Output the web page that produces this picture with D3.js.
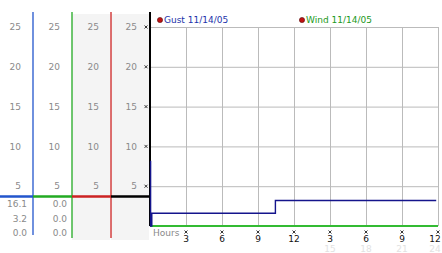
<!DOCTYPE html>
<html>
<head>
<meta charset="utf-8">
<script src="https://cdn.jsdelivr.net/npm/d3@7"></script>
<style>
  body { margin: 0; background: #fff; }
  text { font-family: "DejaVu Sans", Verdana, sans-serif; font-size: 9px; }
</style>
</head>
<body>
<div id="chart"></div>
<script>
const width = 442, height = 253

// data
const gustHours = [0, 0.05, 0.15, 10.45, 23.85]
const gustValues = [8.1, 0, 1.6, 3.2, 3.2]
const windHours = [0, 24]
const windValues = [0, 0]
const scaleTicks = [25, 20, 15, 10, 5]
const hourTicks = [3, 6, 9, 12, 15, 18, 21, 24]
const hourLabels = ["3", "6", "9", "12", "3", "6", "9", "12"]
const hourLabels2 = ["", "", "", "", "15", "18", "21", "24"]
const gustStats = ["16.1", "3.2", "0.0"]
const windStats = ["0.0", "0.0", "0.0"]
const legendNames = ["Gust 11/14/05", "Wind 11/14/05"]
const dividerLevel = 3.7

const xScale = d3.scaleLinear().domain([0, 24]).range([150, 438])
const yScale = d3.scaleLinear().domain([0, 25]).range([226, 27])

const svg = d3.select("#chart").append("svg")
    .attr("width", width)
    .attr("height", height)

// left panel columns
const columns = [
    {x0: 0, x1: 33, color: "#2255cc", lx: 21, bg: "#fff", bottom: 235},
    {x0: 33, x1: 72, color: "#22aa22", lx: 60, bg: "#fff", bottom: 238},
    {x0: 72, x1: 111, color: "#cc2222", lx: 99, bg: "#f4f4f4", bottom: 238},
    {x0: 111, x1: 150, color: "#000", lx: 137, bg: "#f4f4f4", bottom: 226}
]

svg.selectAll(".colbg")
    .data(columns.filter(c => c.bg !== "#fff"))
    .enter().append("rect")
    .attr("x", d => d.x0)
    .attr("y", 14)
    .attr("width", d => d.x1 - d.x0 - 1)
    .attr("height", 226)
    .attr("fill", d => d.bg)

// scale labels in each column
columns.forEach(c => {
    svg.append("g").selectAll("text")
        .data(scaleTicks)
        .enter().append("text")
        .attr("x", c.lx)
        .attr("y", d => yScale(d))
        .attr("dy", "0.36em")
        .attr("text-anchor", "end")
        .attr("fill", "#8a8a8a")
        .text(d => d)
})

// stats text under the divider
const statRows = [204, 219, 233]
svg.append("g").selectAll("text")
    .data(gustStats)
    .enter().append("text")
    .attr("x", 27)
    .attr("y", (d, i) => statRows[i])
    .attr("dy", "0.36em")
    .attr("text-anchor", "end")
    .attr("fill", "#8a8a8a")
    .text(d => d)
svg.append("g").selectAll("text")
    .data(windStats)
    .enter().append("text")
    .attr("x", 67)
    .attr("y", (d, i) => statRows[i])
    .attr("dy", "0.36em")
    .attr("text-anchor", "end")
    .attr("fill", "#8a8a8a")
    .text(d => d)

// grid lines
svg.append("g")
    .attr("transform", "translate(0," + yScale(0) + ")")
    .call(d3.axisBottom(xScale).tickValues(hourTicks).tickSize(-(yScale(0) - yScale(25))).tickFormat(""))
    .call(g => g.select(".domain").remove())
    .call(g => g.selectAll("line").attr("stroke", "#bbb"))
svg.append("g")
    .attr("transform", "translate(" + xScale(0) + ",0)")
    .call(d3.axisLeft(yScale).tickValues(scaleTicks).tickSize(-(xScale(24) - xScale(0))).tickFormat(""))
    .call(g => g.select(".domain").remove())
    .call(g => g.selectAll("line").attr("stroke", "#bbb"))

// vertical column lines
svg.selectAll(".colline")
    .data(columns)
    .enter().append("line")
    .attr("x1", d => d.x1)
    .attr("x2", d => d.x1)
    .attr("y1", 12)
    .attr("y2", d => d.bottom)
    .attr("stroke", d => d.color)
    .attr("stroke-width", (d, i) => i === 3 ? 2 : 1.3)

// divider bars
svg.selectAll(".divider")
    .data(columns)
    .enter().append("line")
    .attr("x1", d => d.x0)
    .attr("x2", d => d.x1)
    .attr("y1", yScale(dividerLevel))
    .attr("y2", yScale(dividerLevel))
    .attr("stroke", d => d.color)
    .attr("stroke-width", 2.5)

// small tick markers
function marker(g, x, y) {
    g.append("path")
        .attr("d", "M" + (x - 1.5) + "," + (y - 1.5) + "l3,3m0,-3l-3,3")
        .attr("stroke", "#222")
        .attr("stroke-width", 0.9)
        .attr("fill", "none")
}
const markers = svg.append("g")
scaleTicks.forEach(v => marker(markers, 146, yScale(v)))
hourTicks.forEach(h => marker(markers, xScale(h), 232))

// series lines
const line = d3.line().curve(d3.curveStepAfter)
svg.append("path")
    .attr("d", line(windHours.map((h, i) => [xScale(h), yScale(windValues[i])])))
    .attr("stroke", "#33bb33")
    .attr("stroke-width", 2)
    .attr("fill", "none")
svg.append("path")
    .attr("d", line(gustHours.map((h, i) => [xScale(h), yScale(gustValues[i])])))
    .attr("stroke", "#14148c")
    .attr("stroke-width", 1.4)
    .attr("fill", "none")

// hour labels (the last one is pulled in so it stays inside the window)
const labelX = d => Math.min(xScale(d), width - 7)
svg.append("text")
    .attr("x", 153).attr("y", 236)
    .attr("fill", "#8a8a8a")
    .text("Hours")
svg.append("g").selectAll("text")
    .data(hourTicks)
    .enter().append("text")
    .attr("x", labelX)
    .attr("y", 242)
    .attr("text-anchor", "middle")
    .attr("fill", "#111")
    .text((d, i) => hourLabels[i])
svg.append("g").selectAll("text")
    .data(hourTicks)
    .enter().append("text")
    .attr("x", labelX)
    .attr("y", 252)
    .attr("text-anchor", "middle")
    .attr("fill", "#e2e2e2")
    .text((d, i) => hourLabels2[i])

// legend
const legendX = [160, 302]
const legendColors = ["#2233aa", "#229922"]
const legend = svg.append("g").selectAll("g")
    .data(legendNames)
    .enter().append("g")
    .attr("transform", (d, i) => "translate(" + legendX[i] + ",20)")
legend.append("circle")
    .attr("r", 2.6)
    .attr("fill", "#c01010")
    .attr("stroke", "#551111")
    .attr("stroke-width", 0.6)
legend.append("text")
    .attr("x", 4)
    .attr("dy", "0.36em")
    .attr("fill", (d, i) => legendColors[i])
    .text(d => d)
</script>
</body>
</html>
